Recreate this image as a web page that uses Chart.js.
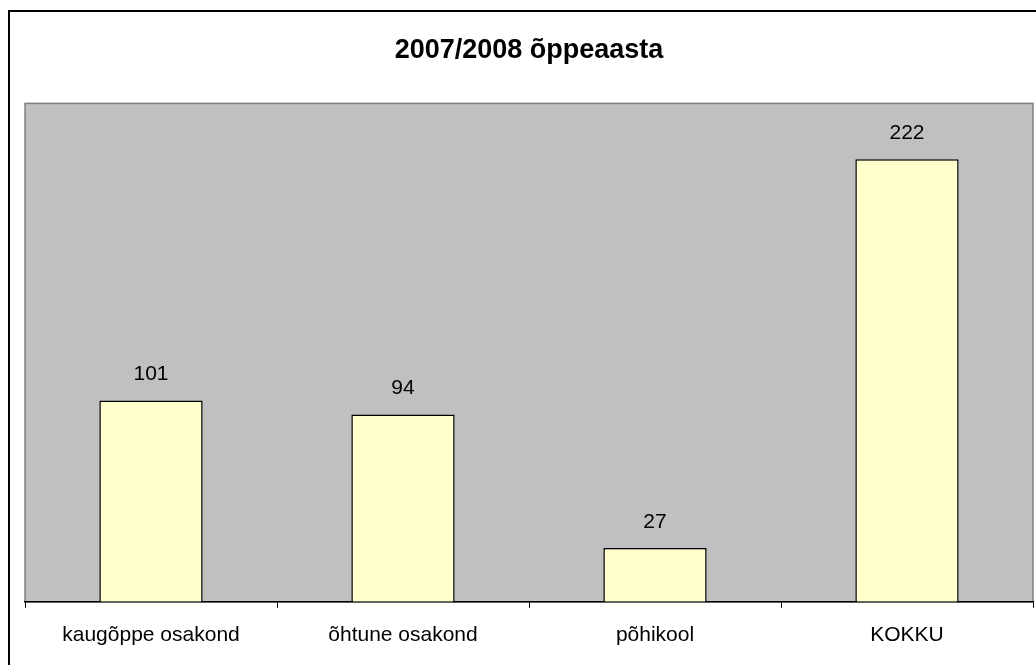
<!DOCTYPE html>
<html>
<head>
<meta charset="utf-8">
<script src="https://cdn.jsdelivr.net/npm/chart.js@4"></script>
<style>
  html, body { margin: 0; padding: 0; background: #fff; }
  #wrap { width: 1036px; height: 665px; position: relative; }
</style>
</head>
<body>
<div id="wrap"><canvas id="schoolChart"></canvas></div>
<script>
// categories along the x-axis
var categories = ["kaugõppe osakond", "õhtune osakond", "põhikool", "KOKKU"];
// number of students
var students = [101, 94, 27, 222];
var chartTitle = "2007/2008 õppeaasta";

// outer frame + grey plot area, value labels above bars
var backdrop = {
  id: 'backdrop',
  beforeDraw: function (chart) {
    var c = chart.ctx, a = chart.chartArea;
    c.save();
    c.fillStyle = '#fff';
    c.fillRect(0, 0, chart.width, chart.height);
    c.strokeStyle = '#000';
    c.lineWidth = 2;
    c.strokeRect(9, 11, chart.width + 20, chart.height + 20);
    c.fillStyle = '#c0c0c0';
    c.fillRect(a.left, a.top, a.right - a.left, a.bottom - a.top);
    c.strokeStyle = '#808080';
    c.lineWidth = 1.5;
    c.strokeRect(a.left, a.top, a.right - a.left, a.bottom - a.top);
    c.restore();
  },
  afterDatasetsDraw: function (chart) {
    var c = chart.ctx;
    var meta = chart.getDatasetMeta(0);
    c.save();
    c.fillStyle = '#000';
    c.font = '21px "Liberation Sans", Arial, sans-serif';
    c.textAlign = 'center';
    c.textBaseline = 'middle';
    meta.data.forEach(function (bar, i) {
      c.fillText(students[i], bar.x, bar.y - 26);
    });
    c.restore();
  }
};

var ctx = document.getElementById("schoolChart");
var myChart = new Chart(ctx, {
  type: 'bar',
  data: {
    labels: categories,
    datasets: [
      {
        data: students,
        backgroundColor: "#ffffcc",
        borderColor: "#000",
        borderWidth: 1.5,
        barPercentage: 0.41,
        categoryPercentage: 1
      }
    ]
  },
  options: {
    responsive: true,
    maintainAspectRatio: false,
    animation: false,
    layout: { padding: { left: 25, right: 3, top: 7, bottom: 2 } },
    plugins: {
      legend: { display: false },
      tooltip: { enabled: false },
      title: {
        display: true,
        text: chartTitle,
        color: '#000',
        font: { family: '"Liberation Sans", Arial, sans-serif', size: 27, weight: 'bold' },
        padding: { top: 27, bottom: 37 }
      }
    },
    scales: {
      x: {
        grid: {
          display: true,
          drawOnChartArea: false,
          drawTicks: true,
          tickLength: 6,
          color: '#000',
          offset: true
        },
        border: { display: true, color: '#000', width: 1.5 },
        ticks: {
          color: '#000',
          padding: 15,
          maxRotation: 0,
          font: { family: '"Liberation Sans", Arial, sans-serif', size: 21 }
        }
      },
      y: {
        display: false,
        min: 0,
        max: 250
      }
    }
  },
  plugins: [backdrop]
});
</script>
</body>
</html>
